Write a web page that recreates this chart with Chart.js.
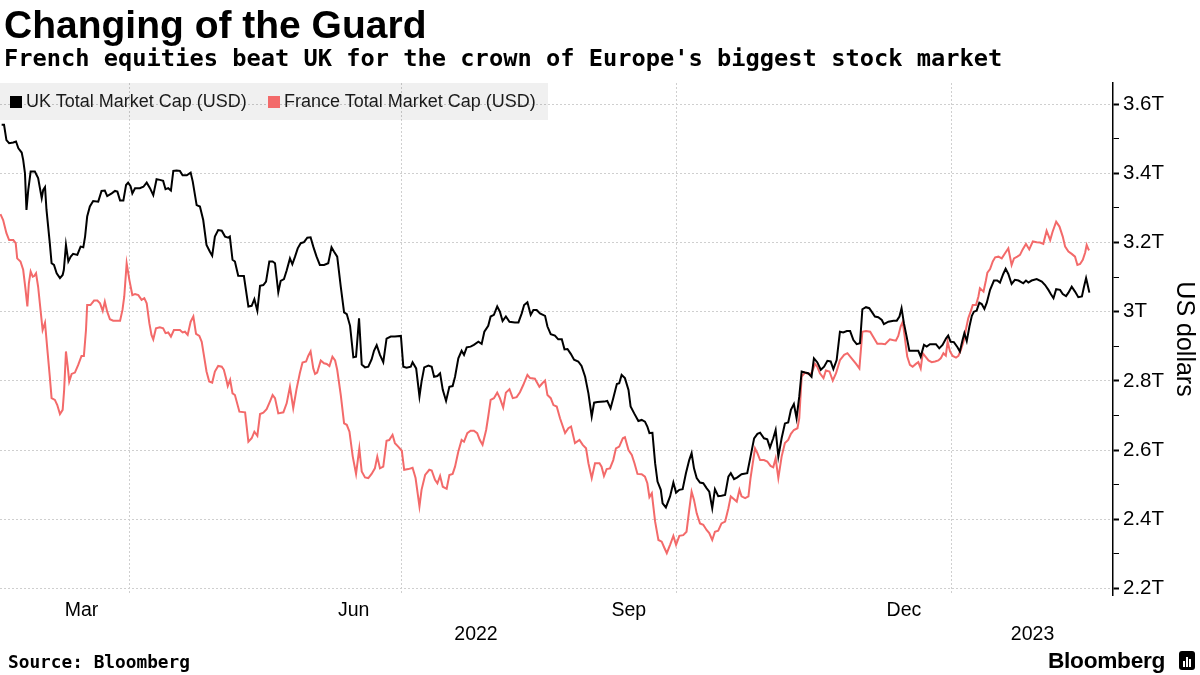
<!DOCTYPE html>
<html>
<head>
<meta charset="utf-8">
<script src="https://cdn.jsdelivr.net/npm/chart.js@4.4.1/dist/chart.umd.min.js"></script>
<style>
html,body{margin:0;padding:0;background:#fff;}
#wrap{position:relative;width:1200px;height:675px;overflow:hidden;}
#c{position:absolute;left:0;top:0;}
#title{position:absolute;left:4px;top:5px;font:bold 39px 'Liberation Sans',Arial,sans-serif;line-height:1;color:#000;white-space:nowrap;}
#subtitle{position:absolute;left:4px;top:47px;font:bold 23.7px 'DejaVu Sans Mono',monospace;line-height:1;color:#000;white-space:nowrap;}
#legend{position:absolute;left:0;top:83px;width:548px;height:37px;background:rgba(0,0,0,0.06);}
.item{position:absolute;top:0;height:37px;display:flex;align-items:center;font:18px 'Liberation Sans',Arial,sans-serif;color:#1a1a1a;white-space:nowrap;}
.sw{width:12px;height:12px;margin-right:4px;flex:none;}
#source{position:absolute;left:8px;top:653px;font:bold 17.8px 'DejaVu Sans Mono',monospace;line-height:1;color:#000;white-space:nowrap;}
#logo{position:absolute;left:1048px;top:649px;font:bold 22.7px 'Liberation Sans',Arial,sans-serif;line-height:1;color:#000;letter-spacing:-0.3px;}
#icon{position:absolute;left:1179px;top:651px;width:16px;height:19px;background:#000;border-radius:3px;}
#icon i{position:absolute;bottom:3px;width:2px;background:#fff;}
</style>
</head>
<body>
<div id="wrap">
  <canvas id="c" width="1200" height="675"></canvas>
  <div id="title">Changing of the Guard</div>
  <div id="subtitle">French equities beat UK for the crown of Europe's biggest stock market</div>
  <div id="legend"></div>
  <div id="source">Source: Bloomberg</div>
  <div id="logo">Bloomberg</div>
  <div id="icon"><i style="left:4px;height:6px"></i><i style="left:7px;height:10px"></i><i style="left:10px;height:8px"></i></div>
</div>
<script>
// ---- data (x = days since 2022-01-01, y = market cap in trillions USD) ----
const ukDays = [47.3,48.1,48.9,49.8,51.2,52.1,52.9,54.0,54.5,55.1,55.6,56.2,57.0,58.4,59.5,60.7,61.2,61.8,62.3,63.4,64.0,64.8,65.7,66.8,67.7,68.1,68.8,69.6,70.4,71.2,72.6,73.7,74.6,75.2,75.9,76.8,77.9,79.6,80.7,81.8,82.6,84.1,85.2,86.0,86.9,88.0,88.9,89.6,90.4,91.0,91.9,93.5,94.7,95.8,96.9,98.0,99.1,100.2,101.3,102.1,103.0,103.9,104.7,105.8,106.9,107.8,109.2,110.5,111.2,112.5,113.6,114.7,115.8,116.9,117.7,118.6,119.7,120.9,122.0,123.1,123.6,124.5,125.3,126.4,128.3,129.8,130.9,131.8,132.8,133.7,134.8,135.7,136.8,137.9,138.7,139.8,140.6,141.7,142.6,143.7,144.5,145.4,146.3,147.3,148.4,149.5,150.6,151.5,152.6,153.7,155.1,156.5,157.6,158.4,159.5,160.7,161.8,162.7,163.8,164.9,165.8,166.8,167.7,168.8,169.9,171.0,171.8,172.7,173.8,174.9,176.0,177.4,178.8,180.8,181.6,182.7,184.1,184.7,185.9,187.0,187.7,188.6,190.0,191.1,191.9,193.0,193.9,194.8,195.9,197.0,198.1,198.9,200.0,201.1,201.9,202.8,204.1,205.2,206.7,207.8,208.7,210.0,210.8,211.9,213.0,213.9,214.8,215.9,217.1,218.9,220.1,221.2,222.0,223.1,224.2,225.1,226.2,227.3,229.0,229.8,230.9,232.3,233.4,234.6,235.5,236.5,237.6,238.7,240.1,241.2,242.4,243.5,244.6,245.4,246.5,248.7,249.8,250.9,251.8,253.0,253.8,254.6,255.7,256.9,257.6,258.8,260.2,261.3,262.4,263.2,263.9,264.9,265.8,266.6,267.7,268.3,269.4,270.8,271.9,272.8,273.9,275.0,276.1,277.2,278.0,278.8,279.7,280.8,281.9,283.0,283.9,284.9,285.8,286.9,288.0,289.2,290.3,291.1,292.2,293.3,294.7,296.6,297.7,298.9,300.0,300.9,302.2,303.3,304.2,305.3,306.1,307.0,308.1,309.2,310.3,311.2,312.2,313.1,314.0,314.8,315.9,317.0,318.1,318.9,320.0,321.2,322.3,323.4,324.5,325.4,326.5,327.6,328.7,329.9,331.0,332.1,333.2,334.3,335.1,336.3,337.4,338.2,339.3,340.4,341.6,342.3,343.8,345.5,346.6,347.5,348.2,349.0,349.9,350.8,352.1,353.8,354.6,355.7,356.6,357.7,359.7,360.8,361.9,363.1,363.8,364.6,365.7,366.9,367.7,368.6,369.2,370.0,370.9,371.7,372.4,373.3,374.2,375.0,375.9,376.7,377.8,379.1,380.2,381.1,382.2,383.0,383.9,385.0,386.1,387.3,388.9,389.8,390.6,391.7,393.4,395.1,396.2,397.3,398.1,399.0,399.9,401.2,402.1,403.2,404.0,405.1,406.2,407.3,408.5,409.2,409.9,410.3,411.0];
const ukCap = [3.540,3.540,3.496,3.487,3.489,3.492,3.472,3.460,3.439,3.400,3.294,3.352,3.405,3.405,3.386,3.328,3.352,3.360,3.294,3.198,3.140,3.135,3.111,3.097,3.106,3.121,3.193,3.145,3.159,3.167,3.164,3.188,3.186,3.217,3.275,3.304,3.320,3.318,3.349,3.350,3.334,3.342,3.349,3.347,3.321,3.321,3.366,3.373,3.363,3.342,3.357,3.357,3.361,3.373,3.357,3.337,3.383,3.381,3.378,3.354,3.357,3.350,3.407,3.408,3.407,3.394,3.394,3.402,3.376,3.308,3.304,3.265,3.193,3.174,3.162,3.217,3.236,3.234,3.217,3.214,3.217,3.150,3.145,3.104,3.103,3.015,3.017,3.036,3.003,3.075,3.077,3.087,3.145,3.145,3.140,3.056,3.089,3.094,3.119,3.154,3.137,3.159,3.183,3.198,3.201,3.214,3.215,3.188,3.159,3.135,3.135,3.140,3.186,3.174,3.159,3.072,2.998,2.993,2.959,2.868,2.870,2.981,2.847,2.839,2.841,2.862,2.887,2.903,2.875,2.854,2.922,2.928,2.928,2.930,2.841,2.838,2.841,2.854,2.836,2.755,2.798,2.839,2.844,2.841,2.812,2.814,2.822,2.774,2.742,2.783,2.785,2.812,2.865,2.887,2.875,2.897,2.899,2.904,2.913,2.907,2.942,2.959,2.986,2.991,3.015,3.000,2.973,2.986,2.971,2.969,2.969,2.995,3.019,3.027,2.991,3.005,3.005,2.995,2.988,2.957,2.935,2.931,2.920,2.920,2.891,2.892,2.878,2.861,2.856,2.843,2.812,2.764,2.697,2.737,2.739,2.740,2.742,2.721,2.750,2.791,2.793,2.817,2.808,2.774,2.726,2.706,2.684,2.687,2.682,2.668,2.649,2.650,2.562,2.509,2.485,2.446,2.434,2.466,2.506,2.477,2.485,2.487,2.533,2.571,2.591,2.547,2.519,2.506,2.504,2.490,2.480,2.432,2.487,2.467,2.468,2.470,2.523,2.533,2.516,2.521,2.530,2.533,2.581,2.634,2.647,2.650,2.634,2.631,2.607,2.634,2.658,2.581,2.634,2.677,2.680,2.716,2.733,2.692,2.755,2.827,2.824,2.822,2.812,2.865,2.854,2.832,2.841,2.858,2.856,2.834,2.860,2.942,2.940,2.944,2.944,2.918,2.906,2.909,3.007,3.013,3.010,3.000,2.986,2.984,2.976,2.964,2.971,2.974,2.974,2.986,3.010,2.966,2.928,2.887,2.887,2.887,2.870,2.904,2.899,2.906,2.906,2.894,2.904,2.923,2.931,2.913,2.912,2.897,2.885,2.918,2.938,2.915,2.957,2.988,3.000,3.003,3.026,3.022,3.008,3.026,3.063,3.090,3.090,3.084,3.109,3.124,3.109,3.080,3.092,3.090,3.082,3.090,3.084,3.090,3.094,3.087,3.077,3.063,3.051,3.039,3.065,3.063,3.051,3.045,3.055,3.072,3.058,3.042,3.044,3.072,3.097,3.082,3.055];
const frDays = [46.9,47.8,48.9,49.8,51.2,52.0,52.5,53.6,54.5,55.3,55.9,56.4,57.0,57.7,58.2,58.8,59.5,60.3,61.0,61.8,62.6,63.4,64.0,65.1,65.9,66.8,67.7,68.2,68.8,69.4,69.9,70.7,71.8,72.9,74.0,74.8,75.5,75.9,77.0,78.2,79.3,80.2,81.1,81.8,82.6,83.5,84.6,86.9,87.7,88.3,89.1,90.0,91.0,91.9,93.0,94.1,95.0,95.8,96.7,97.4,98.0,98.9,100.2,101.3,102.1,103.0,103.9,104.9,106.9,107.8,108.6,109.5,110.5,111.4,112.3,113.4,114.2,115.0,115.8,116.7,117.7,118.6,119.7,120.9,121.6,122.3,122.9,123.7,124.5,125.3,126.8,128.7,129.8,130.9,131.8,132.8,133.7,134.8,135.9,137.0,137.9,138.7,139.8,141.5,142.6,143.7,144.8,145.9,147.0,147.9,149.1,149.8,150.6,151.5,152.1,152.8,154.0,155.1,156.0,156.9,157.9,158.8,159.5,160.7,161.8,162.7,163.6,164.7,165.8,166.9,167.7,168.8,169.9,171.0,172.1,172.9,173.8,174.9,176.0,176.9,178.0,178.8,179.9,181.1,181.9,183.3,184.7,185.7,187.0,187.7,188.9,190.3,191.1,192.2,193.0,193.9,194.8,196.1,197.0,198.1,198.9,200.0,201.1,201.9,203.0,204.1,205.2,206.3,207.2,208.1,209.3,210.0,210.8,211.9,213.0,213.9,215.0,215.9,217.1,218.2,219.5,220.6,221.7,223.1,224.0,225.6,227.1,228.1,229.0,229.8,230.9,231.8,232.9,234.0,235.7,236.8,237.7,239.0,240.5,241.6,242.7,243.5,244.6,245.7,247.2,247.9,248.7,249.6,250.7,251.8,252.7,253.8,255.0,255.7,256.9,258.0,258.9,259.9,261.3,262.4,263.2,263.9,264.7,265.8,266.9,268.0,268.8,269.7,270.8,271.9,272.8,273.9,275.2,276.3,277.2,278.0,278.8,279.7,280.8,281.9,283.0,283.9,284.9,285.8,286.9,288.0,289.2,290.3,291.1,292.2,293.1,294.0,294.7,295.9,297.0,297.7,299.2,300.0,300.9,302.2,303.3,304.4,305.3,306.1,307.0,308.1,309.2,310.3,311.2,312.2,313.4,314.0,314.8,315.9,317.0,318.1,319.3,320.0,320.9,322.1,322.9,324.1,325.2,326.3,327.6,329.0,330.1,331.5,333.0,334.1,335.1,336.3,337.7,339.0,340.1,341.6,342.7,344.3,345.2,346.3,347.1,347.9,348.6,349.4,350.1,351.0,351.9,353.0,353.8,354.6,355.3,356.0,357.2,358.3,359.4,360.5,361.3,362.2,363.0,363.6,364.4,365.3,366.4,367.2,368.0,368.9,369.8,370.5,371.3,372.0,373.1,373.9,374.4,375.6,376.4,376.9,377.8,378.7,379.5,380.6,381.7,382.8,383.9,385.0,385.8,386.9,387.8,388.7,389.8,390.9,392.1,393.4,394.5,395.6,396.7,397.9,398.7,399.9,401.0,402.1,402.9,404.0,405.1,406.2,407.0,407.9,408.8,409.6,410.1,410.7,411.0];
const frCap = [3.282,3.265,3.227,3.207,3.207,3.198,3.154,3.145,3.121,3.063,3.015,3.082,3.116,3.101,3.103,3.111,3.072,3.005,2.947,2.968,2.889,2.812,2.750,2.745,2.730,2.704,2.716,2.774,2.885,2.841,2.798,2.820,2.824,2.846,2.872,2.872,2.947,3.019,3.019,3.032,3.032,3.024,3.002,3.029,3.000,2.978,2.974,2.974,3.005,3.044,3.140,3.092,3.048,3.051,3.048,3.034,3.039,3.024,2.966,2.933,2.920,2.952,2.955,2.952,2.938,2.940,2.928,2.947,2.947,2.940,2.942,2.933,2.971,2.986,2.936,2.930,2.913,2.870,2.827,2.798,2.795,2.827,2.843,2.841,2.832,2.808,2.785,2.803,2.764,2.759,2.711,2.709,2.624,2.634,2.653,2.641,2.704,2.708,2.718,2.740,2.759,2.750,2.706,2.709,2.735,2.783,2.721,2.776,2.822,2.853,2.856,2.872,2.885,2.836,2.820,2.824,2.859,2.851,2.849,2.843,2.870,2.859,2.832,2.759,2.677,2.673,2.653,2.581,2.531,2.605,2.538,2.521,2.519,2.531,2.547,2.581,2.547,2.552,2.627,2.629,2.644,2.620,2.610,2.598,2.543,2.545,2.549,2.519,2.437,2.485,2.528,2.543,2.541,2.514,2.504,2.525,2.494,2.488,2.528,2.531,2.552,2.596,2.629,2.624,2.649,2.656,2.656,2.649,2.629,2.615,2.658,2.697,2.745,2.750,2.766,2.750,2.723,2.766,2.776,2.750,2.753,2.767,2.788,2.817,2.808,2.806,2.783,2.793,2.801,2.759,2.750,2.730,2.726,2.692,2.649,2.663,2.668,2.620,2.629,2.615,2.605,2.562,2.519,2.562,2.562,2.552,2.525,2.545,2.547,2.571,2.605,2.610,2.634,2.637,2.600,2.586,2.562,2.531,2.530,2.523,2.504,2.464,2.475,2.393,2.340,2.335,2.319,2.302,2.326,2.352,2.326,2.352,2.354,2.364,2.427,2.480,2.456,2.417,2.388,2.384,2.369,2.360,2.340,2.364,2.367,2.388,2.393,2.432,2.466,2.458,2.451,2.485,2.466,2.461,2.466,2.519,2.605,2.591,2.571,2.571,2.567,2.554,2.550,2.576,2.519,2.581,2.620,2.629,2.647,2.658,2.663,2.692,2.812,2.824,2.820,2.822,2.849,2.841,2.822,2.808,2.830,2.827,2.801,2.822,2.860,2.875,2.880,2.865,2.849,2.836,2.942,2.944,2.942,2.923,2.907,2.907,2.906,2.920,2.918,2.916,2.930,2.957,2.971,2.918,2.870,2.846,2.841,2.849,2.854,2.836,2.880,2.872,2.859,2.854,2.856,2.859,2.865,2.880,2.873,2.913,2.885,2.872,2.867,2.872,2.889,2.913,2.952,2.981,3.000,3.019,3.019,3.044,3.068,3.058,3.090,3.113,3.123,3.145,3.157,3.159,3.154,3.169,3.183,3.135,3.154,3.159,3.164,3.180,3.196,3.180,3.203,3.201,3.200,3.196,3.234,3.207,3.231,3.260,3.246,3.217,3.188,3.174,3.167,3.159,3.135,3.138,3.150,3.171,3.193,3.180,3.178];

const seriesLabels = ['UK Total Market Cap (USD)', 'France Total Market Cap (USD)'];
const seriesColors = ['#000000', '#f36a6a'];

const gridDays = [90, 181, 273, 365];          // Apr 1, Jul 1, Oct 1, Jan 1
const monthDays = [74, 165, 257, 349];         // mid-month label positions
const monthLabels = ['Mar', 'Jun', 'Sep', 'Dec'];
const yearDays = [205.9, 392];
const yearLabels = ['2022', '2023'];
const yTicks = [2.2, 2.3, 2.4, 2.5, 2.6, 2.7, 2.8, 2.9, 3.0, 3.1, 3.2, 3.3, 3.4, 3.5, 3.6];
const xRange = [46.75, 418.9];
const yRange = [2.181, 3.661];

// ---- legend (HTML) ----
const legendEl = document.getElementById('legend');
const legendLeft = [10, 268];
seriesLabels.forEach((lab, i) => {
  const it = document.createElement('div');
  it.className = 'item';
  it.style.left = legendLeft[i] + 'px';
  const sw = document.createElement('span');
  sw.className = 'sw';
  sw.style.background = seriesColors[i];
  const tx = document.createElement('span');
  tx.textContent = lab;
  it.appendChild(sw); it.appendChild(tx);
  legendEl.appendChild(it);
});

// ---- chart ----
Chart.defaults.font.family = "'Liberation Sans', Arial, sans-serif";
Chart.defaults.color = '#000';

const isMajor = v => Math.round(v * 10) % 2 === 0;
const fixTicks = arr => s => { s.ticks = arr.map(v => ({ value: v })); };
const noPad = h => s => { s.height = h; s.paddingLeft = 0; s.paddingRight = 0; };

new Chart(document.getElementById('c'), {
  type: 'line',
  data: {
    datasets: [
      { label: seriesLabels[0], data: ukDays.map((d, i) => ({ x: d, y: ukCap[i] })),
        borderColor: seriesColors[0], borderWidth: 2, pointRadius: 0, tension: 0 },
      { label: seriesLabels[1], data: frDays.map((d, i) => ({ x: d, y: frCap[i] })),
        borderColor: seriesColors[1], borderWidth: 2, pointRadius: 0, tension: 0 }
    ]
  },
  options: {
    responsive: false,
    animation: false,
    devicePixelRatio: 1,
    layout: { padding: { top: 83, left: 0, right: 0, bottom: 30 } },
    plugins: { legend: { display: false }, tooltip: { enabled: false } },
    scales: {
      x: {
        type: 'linear', position: 'bottom', min: xRange[0], max: xRange[1], weight: 0,
        afterBuildTicks: fixTicks(gridDays),
        afterFit: noPad(0),
        ticks: { display: false },
        grid: { color: '#cfcfcf', lineWidth: 1, drawTicks: false },
        border: { display: false, dash: [2, 2] }
      },
      xm: {
        type: 'linear', position: 'bottom', min: xRange[0], max: xRange[1], weight: 1,
        afterBuildTicks: fixTicks(monthDays),
        afterFit: noPad(25),
        ticks: { autoSkip: false, maxRotation: 0, minRotation: 0, padding: 4,
                 font: { size: 19.5 }, color: '#000',
                 callback: (v, i) => monthLabels[i] },
        grid: { display: false, drawTicks: false },
        border: { display: false }
      },
      xy: {
        type: 'linear', position: 'bottom', min: xRange[0], max: xRange[1], weight: 2,
        afterBuildTicks: fixTicks(yearDays),
        afterFit: noPad(25),
        ticks: { autoSkip: false, maxRotation: 0, minRotation: 0, padding: 3,
                 font: { size: 19.5 }, color: '#000',
                 callback: (v, i) => yearLabels[i] },
        grid: { display: false, drawTicks: false },
        border: { display: false }
      },
      y: {
        type: 'linear', position: 'right', min: yRange[0], max: yRange[1],
        afterBuildTicks: fixTicks(yTicks),
        afterFit: s => { s.width = 87; s.paddingTop = 0; s.paddingBottom = 0; },
        ticks: { autoSkip: false, padding: 4, font: { size: 20.5 }, color: '#000',
                 callback: v => isMajor(v) ? (+v.toFixed(1)) + 'T' : '' },
        grid: {
          color: c => (c.tick && isMajor(c.tick.value)) ? '#cfcfcf' : 'rgba(0,0,0,0)',
          tickColor: '#000',
          tickWidth: c => (c.tick && isMajor(c.tick.value)) ? 2 : 1,
          tickLength: 6, lineWidth: 1
        },
        border: { display: true, color: '#000', width: 1.5, dash: [2, 2] },
        title: { display: true, text: 'US dollars', font: { size: 25 }, color: '#000',
                 padding: { top: 1, bottom: 0 } }
      }
    }
  }
});
</script>
</body>
</html>
